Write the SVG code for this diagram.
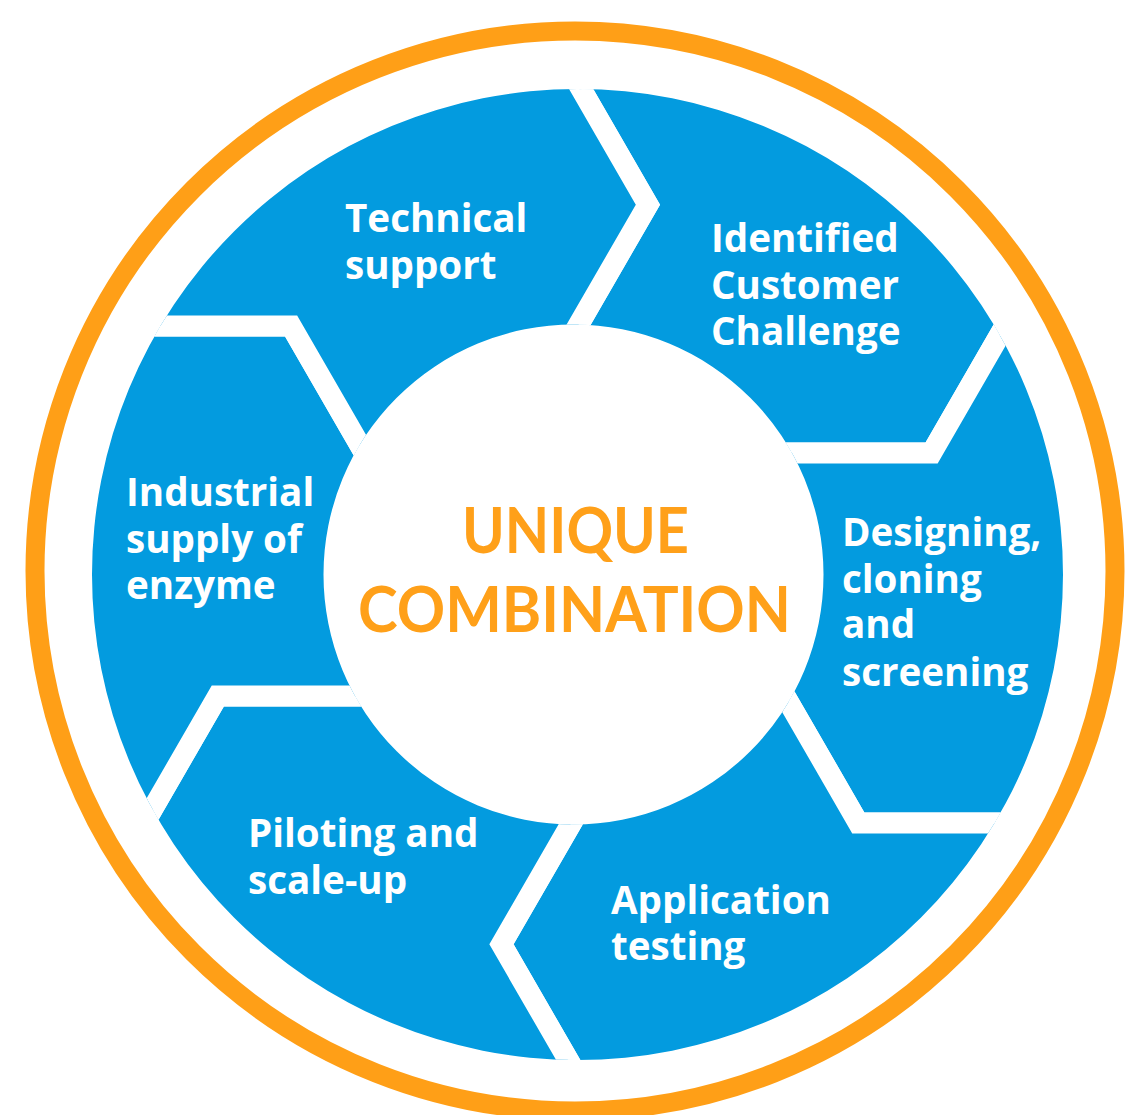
<svg xmlns="http://www.w3.org/2000/svg" width="1128" height="1115" viewBox="0 0 1128 1115">
  <style>
    .seg { fill: #039BDF; stroke: #FFFFFF; stroke-width: 21; stroke-linejoin: miter; }
    .lbl { fill: #FFFFFF; font-family: "Open Sans", "Noto Sans", "Liberation Sans", sans-serif; font-weight: 700; font-size: 38.6px; }
    .hub { fill: #FFA019; font-family: "Lato", "Liberation Sans", sans-serif; font-weight: 700; font-size: 64px; text-anchor: middle; }
  </style>
  <defs>
    <!-- annulus that every segment is cut to -->
    <clipPath id="ring">
      <path clip-rule="evenodd" d="M 1063 574.5 A 485.5 485.5 0 1 0 92 574.5 A 485.5 485.5 0 1 0 1063 574.5 Z M 823.5 574.5 A 250 250 0 1 0 323.5 574.5 A 250 250 0 1 0 823.5 574.5 Z"/>
    </clipPath>
  </defs>

  <rect width="1128" height="1115" fill="#FFFFFF"/>

  <!-- outer orange ring -->
  <circle id="frame" cx="575" cy="571" r="540" fill="none" stroke="#FF9F17" stroke-width="19"/>

  <!-- six chevron segments, flowing clockwise -->
  <g id="identified-customer-challenge">
    <path class="seg" clip-path="url(#ring)" d="M 562.93 351.90 L 647.93 204.68 L 567.93 66.12 L 561.44 -425.41 L 1063.19 -298.07 L 1434.0 63.02 L 1011.59 314.44 L 931.59 453.00 L 761.59 453.00 L 574.7 574.5 Z"/>
    <text class="lbl" x="711" y="252">Identified<tspan x="711" dy="47">Customer</tspan><tspan x="711" dy="46">Challenge</tspan></text>
  </g>
  <g id="designing-cloning-screening">
    <path class="seg" clip-path="url(#ring)" d="M 761.59 453.00 L 931.59 453.00 L 1011.59 314.44 L 1434.0 63.02 L 1574.61 561.24 L 1447.27 1062.99 L 1018.31 822.88 L 858.31 822.88 L 773.31 675.66 L 574.7 574.5 Z"/>
    <text class="lbl" x="842" y="546">Designing,<tspan x="842" dy="47">cloning</tspan><tspan x="842" dy="45">and</tspan><tspan x="842" dy="48">screening</tspan></text>
  </g>
  <g id="application-testing">
    <path class="seg" clip-path="url(#ring)" d="M 773.31 675.66 L 858.31 822.88 L 1018.31 822.88 L 1447.27 1062.99 L 1086.18 1433.80 L 587.96 1574.41 L 581.47 1082.88 L 501.47 944.32 L 586.47 797.10 L 574.7 574.5 Z"/>
    <text class="lbl" x="611" y="914">Application<tspan x="611" dy="46">testing</tspan></text>
  </g>
  <g id="piloting-scale-up">
    <path class="seg" clip-path="url(#ring)" d="M 586.47 797.10 L 501.47 944.32 L 581.47 1082.88 L 587.96 1574.41 L 86.21 1447.07 L -284.60 1085.98 L 137.81 834.56 L 217.81 696.00 L 387.81 696.00 L 574.7 574.5 Z"/>
    <text class="lbl" x="248" y="847">Piloting and<tspan x="248" dy="47">scale-up</tspan></text>
  </g>
  <g id="industrial-supply">
    <path class="seg" clip-path="url(#ring)" d="M 387.81 696.00 L 217.81 696.00 L 137.81 834.56 L -284.60 1085.98 L -425.21 587.76 L -297.87 86.01 L 131.09 326.12 L 291.09 326.12 L 376.09 473.34 L 574.7 574.5 Z"/>
    <text class="lbl" x="126" y="506">Industrial<tspan x="126" dy="47">supply of</tspan><tspan x="126" dy="46">enzyme</tspan></text>
  </g>
  <g id="technical-support">
    <path class="seg" clip-path="url(#ring)" d="M 376.09 473.34 L 291.09 326.12 L 131.09 326.12 L -297.87 86.01 L 63.22 -284.80 L 561.44 -425.41 L 567.93 66.12 L 647.93 204.68 L 562.93 351.90 L 574.7 574.5 Z"/>
    <text class="lbl" x="345" y="232">Technical<tspan x="345" dy="47">support</tspan></text>
  </g>

  <!-- centre title -->
  <g id="unique-combination">
    <text class="hub" x="575.5" y="553" textLength="227" lengthAdjust="spacingAndGlyphs">UNIQUE</text>
    <text class="hub" x="574.5" y="632" textLength="433" lengthAdjust="spacingAndGlyphs">COMBINATION</text>
  </g>

  <!-- no separate connectors: the white chevron gaps between segments carry the flow -->
  <g id="connectors"/>
</svg>
